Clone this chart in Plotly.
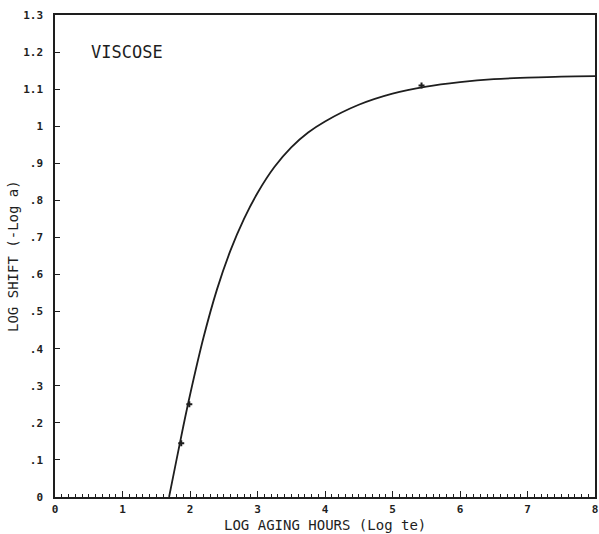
import plotly.graph_objects as go

# Curve (log aging hours vs log shift)
curve_x = [1.69, 1.8, 1.9, 2.0, 2.2, 2.4, 2.6, 2.8, 3.0, 3.25, 3.5, 3.75, 4.0, 4.5, 5.0, 5.5, 6.0, 6.5, 7.0, 7.5, 8.0]
curve_y = [0.0, 0.1, 0.19, 0.275, 0.43, 0.56, 0.665, 0.75, 0.82, 0.89, 0.943, 0.983, 1.013, 1.058, 1.088, 1.107, 1.119, 1.127, 1.131, 1.134, 1.135]

# Measured points
point_x = [1.87, 1.99, 5.43]
point_y = [0.145, 0.25, 1.11]

x_tick_vals = [0, 1, 2, 3, 4, 5, 6, 7, 8]
x_tick_text = ["0", "1", "2", "3", "4", "5", "6", "7", "8"]
y_tick_vals = [0, 0.1, 0.2, 0.3, 0.4, 0.5, 0.6, 0.7, 0.8, 0.9, 1.0, 1.1, 1.2, 1.3]
y_tick_text = ["0", ".1", ".2", ".3", ".4", ".5", ".6", ".7", ".8", ".9", "1", "1.1", "1.2", "1.3"]

FONT = "DejaVu Sans Mono"
INK = "#1e1e1e"

fig = go.Figure()
fig.add_trace(go.Scatter(
    x=curve_x, y=curve_y, mode="lines",
    line=dict(color=INK, width=1.8, shape="spline", smoothing=1.0),
    hoverinfo="skip", showlegend=False,
))
fig.add_trace(go.Scatter(
    x=point_x, y=point_y, mode="markers",
    marker=dict(symbol="cross", size=5, color=INK),
    showlegend=False,
))

fig.update_layout(
    width=599, height=534,
    margin=dict(l=55, r=2, t=15, b=37),
    paper_bgcolor="white", plot_bgcolor="white",
    font=dict(family=FONT, color=INK),
    xaxis=dict(
        range=[0, 8], tickvals=x_tick_vals, ticktext=x_tick_text,
        ticks="inside", ticklen=6, tickwidth=1, tickcolor=INK,
        minor=dict(dtick=0.1, ticks="inside", ticklen=3, tickwidth=1, tickcolor=INK),
        showline=True, linecolor=INK, linewidth=1.5, mirror=True,
        showgrid=False, zeroline=False,
        tickfont=dict(family=FONT, size=11, color=INK, weight="bold"),
        ticklabelstandoff=1,
    ),
    yaxis=dict(
        range=[0, 1.3], tickvals=y_tick_vals, ticktext=y_tick_text,
        ticks="inside", ticklen=5, tickwidth=1, tickcolor=INK,
        showline=True, linecolor=INK, linewidth=1.5, mirror=True,
        showgrid=False, zeroline=False,
        tickfont=dict(family=FONT, size=11, color=INK, weight="bold"),
        ticklabelstandoff=8,
    ),
    annotations=[
        dict(text="VISCOSE", x=0.5, y=1.2, xref="x", yref="y",
             xanchor="left", yanchor="middle", showarrow=False,
             font=dict(family=FONT, size=17, color=INK)),
        dict(text="LOG AGING HOURS (Log te)", x=0.5, y=0, xref="paper", yref="paper",
             xanchor="center", yanchor="middle", yshift=-28, showarrow=False,
             font=dict(family=FONT, size=14, color=INK)),
        dict(text="LOG SHIFT (-Log a)", x=0, y=0.5, xref="paper", yref="paper",
             xanchor="center", yanchor="middle", xshift=-42, textangle=-90, showarrow=False,
             font=dict(family=FONT, size=14, color=INK)),
    ],
)

fig.write_html("out.html")
